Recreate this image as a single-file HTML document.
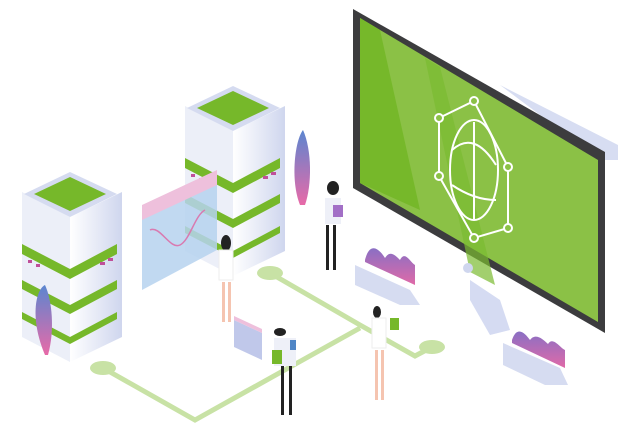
<!DOCTYPE html>
<html><head><meta charset="utf-8"><style>
html,body{margin:0;padding:0;background:#fff;width:636px;height:443px;overflow:hidden}
</style></head><body>
<svg width="636" height="443" viewBox="0 0 636 443" xmlns="http://www.w3.org/2000/svg">
<defs>
<linearGradient id="pl" x1="0" y1="1" x2="0" y2="0"><stop offset="0" stop-color="#e86aa8"/><stop offset="1" stop-color="#5b86d0"/></linearGradient>
<linearGradient id="wave" x1="0" y1="0" x2="0" y2="1"><stop offset="0" stop-color="#8a6fc4"/><stop offset="1" stop-color="#e06aa8"/></linearGradient>
<linearGradient id="side" x1="0" y1="0" x2="1" y2="0"><stop offset="0" stop-color="#fff"/><stop offset="1" stop-color="#cfd6ee"/></linearGradient>
<g id="server">
 <polygon points="0,20 48,45 48,190 0,165" fill="#eceff8"/>
 <polygon points="48,45 100,20 100,165 48,190" fill="url(#side)"/>
 <polygon points="48,0 95,22 48,45 2,22" fill="#d5dbf0"/>
 <polygon points="48,5 84,22 48,39 12,22" fill="#76b82a"/>
 <g fill="#76b82a">
  <polygon points="0,72 48,97 48,107 0,82"/><polygon points="48,97 95,72 95,82 48,107"/>
  <polygon points="0,108 48,133 48,142 0,117"/><polygon points="48,133 95,108 95,117 48,142"/>
  <polygon points="0,140 48,165 48,172 0,147"/><polygon points="48,165 95,140 95,147 48,172"/>
 </g>
 <g fill="#c0509a"><rect x="6" y="88" width="4" height="3"/><rect x="14" y="92" width="4" height="3"/><rect x="78" y="90" width="5" height="3"/><rect x="86" y="86" width="5" height="3"/></g>
</g>
</defs>
<g stroke="#c8e2a5" stroke-width="5" fill="none">
<polyline points="103,368 195,420 360,328"/>
<polyline points="270,273 360,325 415,356 432,347"/>
</g>
<g fill="#c8e2a5"><ellipse cx="103" cy="368" rx="13" ry="7"/><ellipse cx="270" cy="273" rx="13" ry="7"/><ellipse cx="432" cy="347" rx="13" ry="7"/></g>
<use href="#server" x="22" y="172"/>
<use href="#server" x="185" y="86"/>
<path d="M45,355 C30,320 35,290 45,285 C52,300 55,330 48,355Z" fill="url(#pl)"/>
<path d="M300,205 C290,180 295,140 303,130 C312,150 312,185 305,205Z" fill="url(#pl)"/>
<polygon points="142,215 217,175 217,250 142,290" fill="#b6d2ee" opacity="0.85"/>
<polygon points="142,205 217,170 217,185 142,220" fill="#eec0dc"/>
<path d="M150,230 C160,225 170,250 180,245 C190,240 195,215 205,210" stroke="#d97ab0" stroke-width="1.5" fill="none"/>
<polygon points="500,85 618,145 618,160 600,160" fill="#d7ddf2"/>
<polygon points="353,9 605,152 605,333 353,188" fill="#3c3c3e"/>
<polygon points="360,18 598,160 598,322 360,183" fill="#8bc146"/>
<polygon points="360,18 380,30 420,210 360,183" fill="#76b82a"/>
<polygon points="425,58 440,67 495,285 470,272" fill="#7aba30" opacity="0.7"/>
<g stroke="#fff" stroke-width="2" fill="none">
<polygon points="439,118 474,101 508,167 508,228 474,238 439,176"/>
<ellipse cx="474" cy="170" rx="24" ry="50"/>
<line x1="474" y1="122" x2="474" y2="220"/>
<path d="M452,150 Q474,130 496,165 M452,185 Q474,200 496,200"/>
</g>
<g fill="#8bc146" stroke="#fff" stroke-width="2"><circle cx="439" cy="118" r="4"/><circle cx="474" cy="101" r="4"/><circle cx="508" cy="167" r="4"/><circle cx="508" cy="228" r="4"/><circle cx="474" cy="238" r="4"/><circle cx="439" cy="176" r="4"/></g>
<path d="M470,280 L500,300 L510,330 L490,335 L470,300Z" fill="#d5dbf2"/>
<circle cx="468" cy="268" r="5" fill="#cfd6ee"/>
<g>
<polygon points="355,265 410,290 420,305 400,305 355,285" fill="#d6dcf1"/>
<path d="M365,260 C370,240 380,250 385,258 C390,250 395,255 400,260 C405,250 410,262 415,265 L415,285 L365,262Z" fill="url(#wave)"/>
</g>
<g>
<polygon points="503,343 560,368 568,385 545,385 503,365" fill="#d6dcf1"/>
<path d="M512,340 C517,325 525,333 530,340 C535,333 542,338 548,344 C553,336 560,348 565,350 L565,368 L512,343Z" fill="url(#wave)"/>
</g>
<polygon points="234,320 262,333 262,360 234,347" fill="#c0c8ea"/>
<polygon points="234,316 262,329 262,333 234,320" fill="#eec0dc"/>
<g fill="#222"><ellipse cx="333" cy="188" rx="6" ry="7"/><rect x="326" y="225" width="3" height="45"/><rect x="333" y="225" width="3" height="45"/>
<ellipse cx="226" cy="243" rx="5" ry="8"/>
<ellipse cx="280" cy="332" rx="6" ry="4"/><rect x="281" y="365" width="3" height="50"/><rect x="289" y="365" width="3" height="50"/>
<ellipse cx="377" cy="312" rx="4" ry="6"/></g>
<rect x="325" y="198" width="16" height="26" fill="#eef0f8"/><rect x="333" y="205" width="10" height="12" fill="#a26fc6"/>
<rect x="219" y="250" width="14" height="30" fill="#fff" stroke="#eee"/><rect x="222" y="282" width="3" height="40" fill="#f5c4b0"/><rect x="228" y="282" width="3" height="40" fill="#f5c4b0"/>
<rect x="274" y="338" width="22" height="28" fill="#eef0f8"/><rect x="272" y="350" width="10" height="14" fill="#76b82a"/><rect x="290" y="340" width="6" height="10" fill="#4f86c6"/>
<rect x="372" y="318" width="14" height="30" fill="#fff" stroke="#eee"/><rect x="390" y="318" width="9" height="12" fill="#76b82a"/><rect x="375" y="350" width="3" height="50" fill="#f5c4b0"/><rect x="381" y="350" width="3" height="50" fill="#f5c4b0"/>
</svg>
</body></html>
